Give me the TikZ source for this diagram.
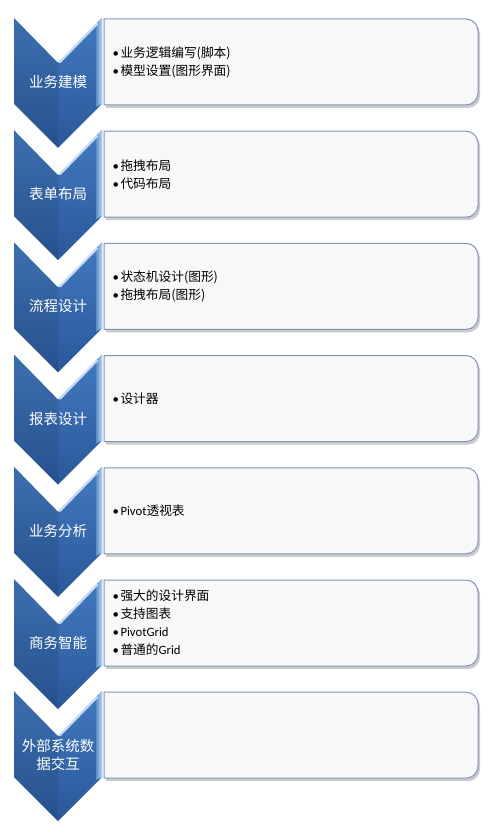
\documentclass[tikz,border=0pt]{standalone}
\usepackage{fontspec}
\setmainfont{Noto Sans CJK SC}
\newfontfamily\lat{Carlito}
\definecolor{chevtop}{HTML}{4279BF}
\definecolor{chevbot}{HTML}{2A5899}
\definecolor{bevl}{HTML}{5C8DCD}
\definecolor{bevr}{HTML}{BCD6F1}
\definecolor{notchhl}{HTML}{C2DAF2}
\definecolor{boxline}{HTML}{7F95BB}
\definecolor{boxfill}{HTML}{F8F8F8}
\tikzset{
  boxtext/.style={inner sep=0pt, anchor=west, align=left, text=black,
    font=\fontsize{12.7}{18}\selectfont},
  chevlabel/.style={inner sep=0pt, align=center, text=white,
    font=\fontsize{14.5}{17.5}\selectfont},
  boxshadow/.style={fill=black!45, opacity=0.45},
  boxstyle/.style={fill=boxfill, draw=boxline, line width=1pt},
}
\newcommand{\stagerow}[4]{%
  \pgfmathsetmacro{\T}{18+112.2*#1}%
  % chevron
  \shade[top color=chevtop, bottom color=chevbot]
    (14,\T) -- (58,\T+45) -- (102,\T) -- (102,\T+86) -- (58,\T+130) -- (14,\T+86) -- cycle;
  \fill[black, opacity=0.08] (14,\T) -- (58,\T+45) -- (58,\T+130) -- (14,\T+86) -- cycle;
  \shade[left color=bevl, right color=bevr]
    (96,\T+6) -- (102,\T) -- (102,\T+86) -- (96,\T+89) -- cycle;
  \draw[notchhl, line width=2.2pt, line cap=round] (60,\T+44) -- (97,\T+6);
  % box
  \fill[boxshadow] (106,\T+4) -- (468,\T+4) arc[start angle=-90,end angle=0,radius=12]
    -- (480,\T+78) arc[start angle=0,end angle=90,radius=12] -- (106,\T+90) -- cycle;
  \draw[boxstyle] (104,\T+1) -- (466,\T+1) arc[start angle=-90,end angle=0,radius=12]
    -- (478,\T+75) arc[start angle=0,end angle=90,radius=12] -- (104,\T+87) -- cycle;
  \node[chevlabel] (lab#1) at (58,\T+64) {#2};
  \node[boxtext] (txt#1) at (112.5,\T+44) {#3};
}
\newcommand{\bul}{{\lat •}\hspace{1.5pt}}
\begin{document}
\begin{tikzpicture}[x=1pt,y=-1pt]
\useasboundingbox (0,0) rectangle (487,834);
\fill[white] (0,0) rectangle (487,834);
\stagerow{0}{业务建模}{\bul 业务逻辑编写(脚本)\\\bul 模型设置(图形界面)}{}
\stagerow{1}{表单布局}{\bul 拖拽布局\\\bul 代码布局}{}
\stagerow{2}{流程设计}{\bul 状态机设计(图形)\\\bul 拖拽布局(图形)}{}
\stagerow{3}{报表设计}{\bul 设计器}{}
\stagerow{4}{业务分析}{\bul {\lat Pivot}透视表}{}
\stagerow{5}{商务智能}{\bul 强大的设计界面\\\bul 支持图表\\\bul {\lat PivotGrid}\\\bul 普通的{\lat Grid}}{}
\stagerow{6}{外部系统数\\据交互}{\strut}{}
\end{tikzpicture}
\end{document}
